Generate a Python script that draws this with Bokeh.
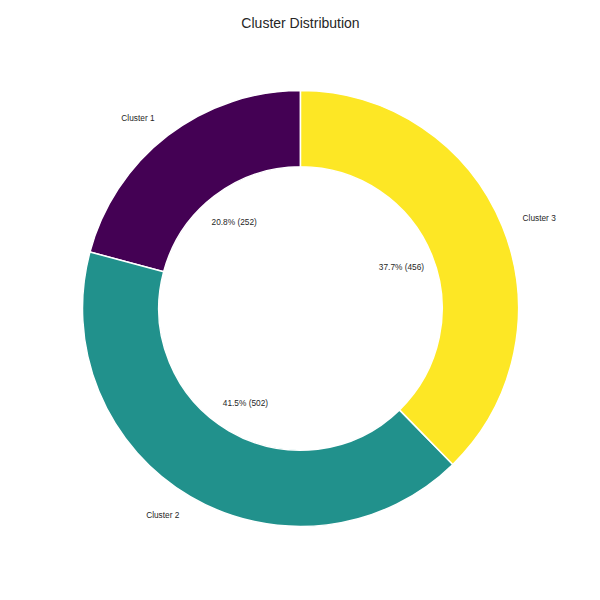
import numpy as np
from bokeh.plotting import figure
from bokeh.models import Range1d, ColumnDataSource
from bokeh.core.properties import value
from bokeh.embed import file_html
from bokeh.resources import INLINE

clusters = ["Cluster 1", "Cluster 2", "Cluster 3"]
counts = [252, 502, 456]
colors = ["#440154", "#21918c", "#fde725"]
title_text = "Cluster Distribution"

W, H = 600, 600
cx, cy = 300, H - 308
R = 218
r_in = R * 0.65

total = sum(counts)
fracs = [c / total for c in counts]
starts, ends = [], []
a = np.pi / 2
for f in fracs:
    starts.append(a)
    a += f * 2 * np.pi
    ends.append(a)
mids = [(s + e) / 2 for s, e in zip(starts, ends)]

p = figure(width=W, height=H, output_backend="svg", toolbar_location=None,
           x_range=Range1d(0, W), y_range=Range1d(0, H), min_border=0)
p.axis.visible = False
p.grid.visible = False
p.outline_line_color = None
p.background_fill_color = "white"
p.border_fill_color = "white"

src = ColumnDataSource(dict(start=starts, end=ends, color=colors))
p.annular_wedge(x=cx, y=cy, inner_radius=r_in, outer_radius=R,
                start_angle="start", end_angle="end", fill_color="color",
                line_color="white", line_width=1.5, source=src)

lx = [cx + 1.1 * R * np.cos(m) for m in mids]
ly = [cy + 1.1 * R * np.sin(m) for m in mids]
align = ["right" if np.cos(m) < 0 else "left" for m in mids]
p.text(x=lx, y=ly, text=clusters, text_align=align, text_baseline="middle",
       text_font=value("Liberation Sans"), text_font_size="8.3px", text_color="#262626")

px = [cx + 0.5 * R * np.cos(m) for m in mids]
py = [cy + 0.5 * R * np.sin(m) for m in mids]
pct = [f"{f*100:.1f}% ({c})" for f, c in zip(fracs, counts)]
p.text(x=px, y=py, text=pct, text_align="center", text_baseline="middle",
       text_font=value("Liberation Sans"), text_font_size="8.3px", text_color="#262626")

p.text(x=[cx], y=[H - 22], text=[title_text], text_align="center", text_baseline="middle",
       text_font=value("Liberation Sans"), text_font_size="14px", text_color="#262626")

open("out.html", "w").write(file_html(p, INLINE))
